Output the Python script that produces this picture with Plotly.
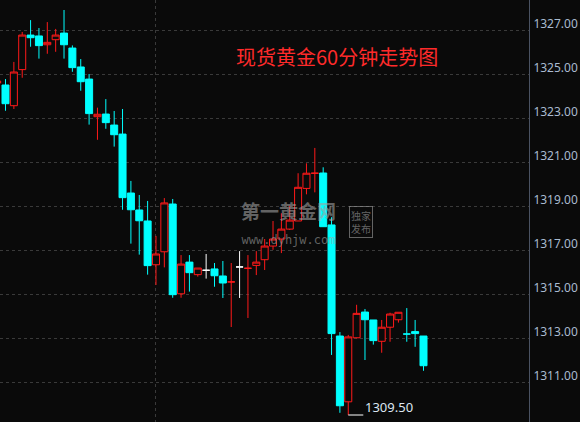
import plotly.graph_objects as go

# ---- data (index, open, high, low, close, colour kind) ----
idx = list(range(-1, 51))
opens = [1324.59, 1324.50, 1323.56, 1325.20, 1326.77, 1326.73, 1326.33, 1326.56, 1326.86, 1326.18,
         1325.32, 1324.77, 1323.06, 1323.18, 1322.68, 1322.27, 1319.59, 1318.82, 1318.32, 1316.33,
         1316.92, 1319.09, 1315.01, 1316.45, 1315.88, 1316.08, 1316.14, 1315.82, 1315.55, 1316.23,
         1316.17, 1316.30, 1316.56, 1317.18, 1317.50, 1317.95, 1318.32, 1319.80, 1320.49, 1320.50,
         1318.14, 1313.09, 1310.10, 1313.01, 1314.18, 1313.82, 1312.85, 1313.49, 1313.83, 1313.18,
         1313.29, 1313.09]
highs = [1324.90, 1324.77, 1325.55, 1326.91, 1327.45, 1327.09, 1327.36, 1327.05, 1327.91, 1326.30,
         1325.68, 1325.00, 1323.47, 1323.86, 1323.32, 1323.41, 1320.14, 1319.50, 1319.23, 1317.64,
         1319.36, 1319.32, 1316.77, 1316.77, 1316.18, 1316.82, 1316.41, 1316.50, 1316.41, 1316.95,
         1316.77, 1316.95, 1317.50, 1318.32, 1318.67, 1319.01, 1320.49, 1320.94, 1321.64, 1320.76,
         1318.49, 1313.27, 1313.14, 1314.51, 1314.32, 1313.82, 1313.82, 1314.15, 1314.17, 1314.36,
         1313.82, 1313.09]
lows = [1324.40, 1323.33, 1323.41, 1324.83, 1326.24, 1325.70, 1325.92, 1326.01, 1325.70, 1325.10,
        1324.24, 1322.70, 1322.01, 1322.51, 1321.70, 1318.83, 1317.29, 1316.79, 1315.88, 1315.41,
        1316.21, 1314.83, 1314.83, 1315.11, 1315.79, 1315.70, 1315.33, 1314.82, 1313.50, 1314.82,
        1313.91, 1315.86, 1316.09, 1317.01, 1316.86, 1317.91, 1318.32, 1319.53, 1319.62, 1318.06,
        1312.23, 1309.60, 1309.50, 1312.99, 1312.00, 1312.70, 1312.33, 1312.83, 1313.70, 1312.83,
        1312.60, 1311.51]
closes = [1324.68, 1323.65, 1325.09, 1326.77, 1326.65, 1326.29, 1326.44, 1326.77, 1326.33, 1325.29,
          1324.65, 1323.20, 1323.17, 1322.79, 1322.24, 1319.38, 1318.83, 1318.33, 1316.29, 1316.82,
          1319.14, 1314.97, 1316.36, 1315.97, 1316.18, 1316.08, 1315.83, 1315.50, 1315.55, 1316.23,
          1316.17, 1316.45, 1317.18, 1317.50, 1317.95, 1318.36, 1319.85, 1320.49, 1320.49, 1318.06,
          1313.20, 1309.92, 1313.05, 1314.12, 1313.83, 1312.88, 1313.49, 1314.09, 1314.17, 1313.18,
          1313.20, 1311.74]
kinds = ["r", "c", "r", "r", "c", "c", "r", "r", "c", "c",
         "c", "c", "r", "c", "c", "c", "c", "c", "c", "r",
         "r", "c", "r", "c", "r", "w", "c", "c", "r", "w",
         "r", "r", "r", "r", "r", "r", "r", "r", "r", "c",
         "c", "c", "r", "r", "c", "c", "r", "r", "r", "c",
         "c", "c"]

y_ticks = [1311, 1313, 1315, 1317, 1319, 1321, 1323, 1325, 1327]
day_break = [18]
title_text = "现货黄金60分钟走势图"

BG = "#0a0a0a"
RED = "#ff1a1a"
CYAN = "#00ffff"
WHITE = "#ffffff"
GRID = "#3a3a3a"

fig = go.Figure()

def add_group(kind, color, fill):
    sel = [i for i, k in enumerate(kinds) if k == kind]
    fig.add_trace(go.Candlestick(
        x=[idx[i] for i in sel],
        open=[opens[i] for i in sel],
        high=[highs[i] for i in sel],
        low=[lows[i] for i in sel],
        close=[closes[i] for i in sel],
        increasing=dict(line=dict(color=color, width=1), fillcolor=fill),
        decreasing=dict(line=dict(color=color, width=1), fillcolor=fill),
        whiskerwidth=0,
        showlegend=False,
        hoverinfo="skip",
    ))

add_group("c", CYAN, CYAN)
add_group("r", RED, BG)
add_group("w", WHITE, WHITE)

# lowest-low marker
lo = min(lows)
lo_i = idx[lows.index(lo)]
fig.add_trace(go.Scatter(x=[lo_i, lo_i + 1.8], y=[lo, lo], mode="lines",
                         line=dict(color=WHITE, width=1), showlegend=False, hoverinfo="skip"))
fig.add_annotation(x=lo_i + 1.8, y=lo, text=f"{lo:.2f}", showarrow=False,
                   xanchor="left", yanchor="bottom", yshift=-3,
                   font=dict(family="Noto Sans", size=13, color="#dde6f0"))

# title
fig.add_annotation(xref="paper", yref="paper", x=0.637, y=0.867, text=title_text,
                   showarrow=False, xanchor="center", yanchor="middle",
                   font=dict(family="Noto Sans CJK SC", size=20, color="#ff2a2a"))

# watermark
wm = "rgba(160,160,160,0.6)"
fig.add_annotation(xref="paper", yref="paper", x=288 / 529, y=1 - 222 / 422,
                   text="<b>第一黄金网</b><br><span style='font-size:12px;font-family:DejaVu Sans Mono'>www.dyhjw.com</span>",
                   showarrow=False, xanchor="center", yanchor="middle",
                   font=dict(family="Noto Sans CJK SC", size=19, color=wm))
fig.add_annotation(xref="paper", yref="paper", x=361 / 529, y=1 - 222 / 422, text="独家<br>发布",
                   showarrow=False, xanchor="center", yanchor="middle",
                   bordercolor=wm, borderwidth=1, borderpad=1,
                   font=dict(family="Noto Sans CJK SC", size=10, color=wm))

fig.update_layout(
    width=580, height=422,
    margin=dict(l=0, r=51, t=0, b=0, pad=0),
    paper_bgcolor=BG, plot_bgcolor=BG,
    boxgap=0.16, boxgroupgap=0,
    showlegend=False,
    xaxis=dict(range=[-0.658, 62.62], rangeslider=dict(visible=False),
               tickvals=day_break, showticklabels=False, ticks="",
               showgrid=True, gridcolor=GRID, griddash="dot", gridwidth=1,
               zeroline=False, showline=False, fixedrange=True),
    yaxis=dict(side="right", range=[1309.182, 1328.364],
               tickvals=y_ticks, ticktext=[f"{v:.2f}" for v in y_ticks],
               showgrid=True, gridcolor=GRID, griddash="dot", gridwidth=1,
               zeroline=False, showline=True, linecolor="#4a5262", linewidth=1,
               ticks="", ticklabelstandoff=1, ticklabelshift=-6,
               tickfont=dict(family="Noto Sans", size=12, color="#a9bbd0"),
               fixedrange=True),
)

fig.write_html("out.html", config={"displayModeBar": False},
               post_script="document.body.style.margin='0';document.body.style.background='#0a0a0a';")
